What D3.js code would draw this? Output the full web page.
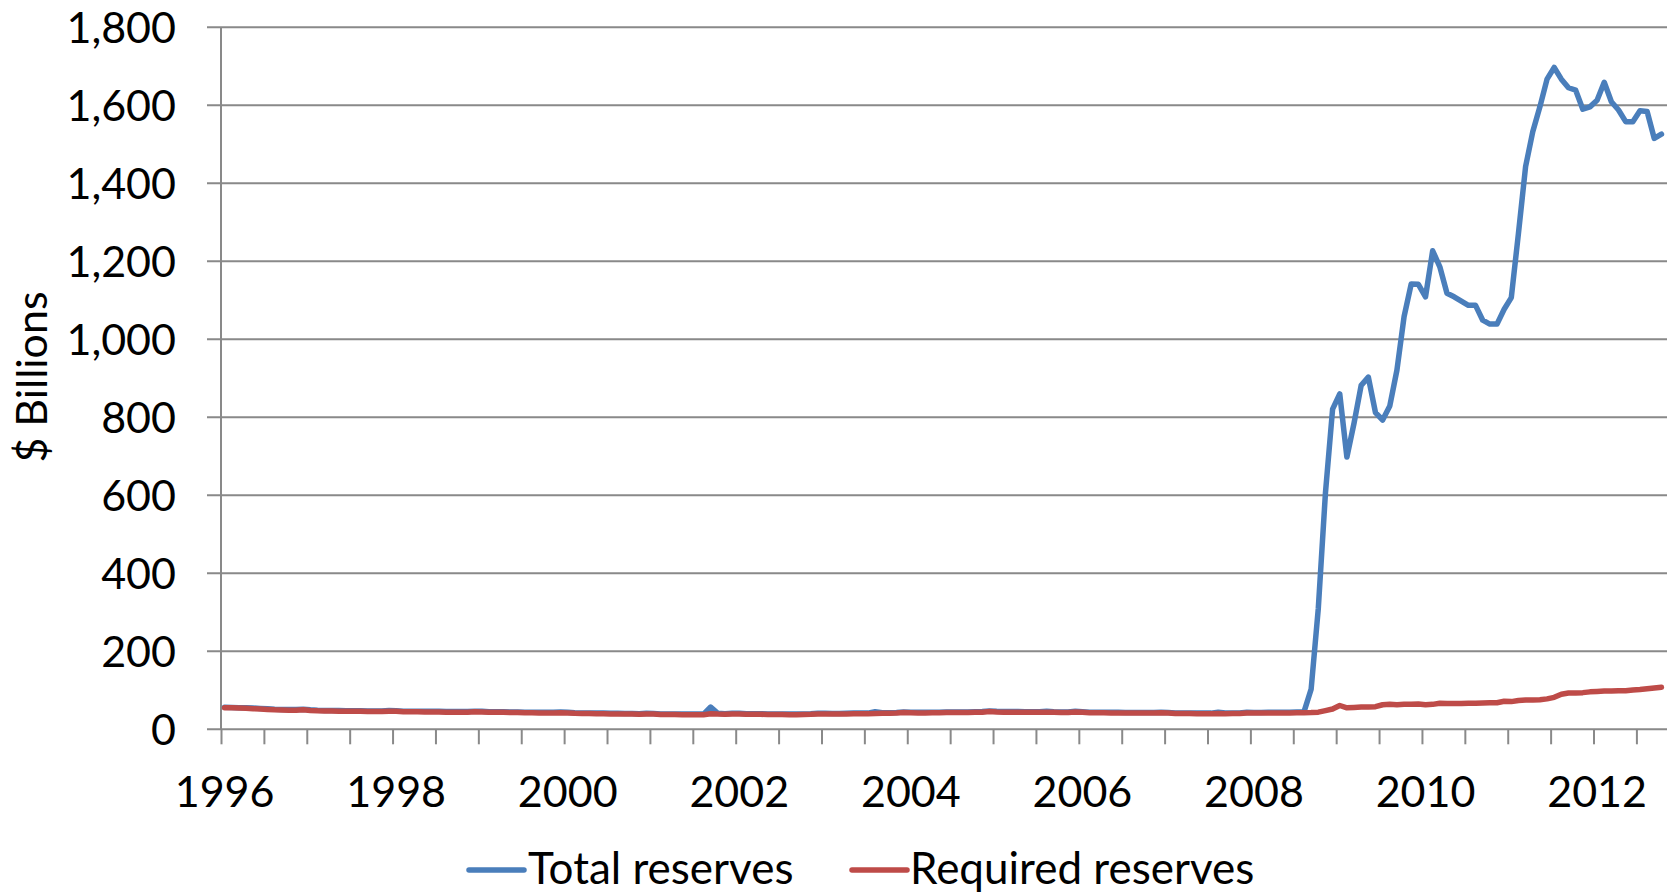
<!DOCTYPE html>
<html>
<head>
<meta charset="utf-8">
<script src="https://cdn.jsdelivr.net/npm/d3@7"></script>
<style>
  html, body { margin: 0; padding: 0; background: #fff; }
  svg { display: block; }
  text { font-family: Lato, "Open Sans", sans-serif; fill: #000; }
</style>
</head>
<body>
<svg id="chart" width="1667" height="894"></svg>
<script>
// ---------------- DATA (monthly, Jan 1996 – Oct 2012, $ billions) ----------------
const startMonth = new Date(1996, 0, 1);
const endMonth = new Date(2012, 10, 1); // exclusive
const months = d3.timeMonth.range(startMonth, endMonth);

const seriesNames = ["Total reserves", "Required reserves"];
const seriesColors = ["#4A7EBB", "#BE4B48"];

const totalReserves = [
  56.5, 56, 55.5, 55, 54.5, 53.5, 52.5, 51.5, 51, 50.5, 50.5, 51.5,      // 1996
  50, 49, 48.5, 48.5, 48, 47.5, 47.5, 47.5, 47, 47, 47, 48,              // 1997
  47.5, 46.5, 46.5, 46.5, 46, 46, 46, 45.5, 45.5, 45.5, 45.5, 46.5,      // 1998
  46, 45, 45, 45, 44.5, 44.5, 44, 44, 43.5, 43.5, 43.5, 44.5,            // 1999
  43.5, 42.5, 42, 42, 41.5, 41.5, 41, 41, 40.5, 40.5, 40, 41,            // 2000
  40.5, 39.5, 39.5, 39.5, 39, 39, 39, 39, 57, 41, 40, 41,                // 2001
  41, 40, 40, 40, 39.5, 39.5, 39.5, 39, 39, 39.5, 40, 41,                // 2002
  41, 40.5, 40.5, 41, 41.5, 41.5, 41.5, 45, 42.5, 42.5, 43, 44.5,        // 2003
  44, 43.5, 43.5, 44, 44, 44.5, 44.5, 44.5, 44.5, 45, 45.5, 47,          // 2004
  46, 45.5, 45.5, 45.5, 45, 45, 45, 46, 45, 44.5, 44.5, 46,              // 2005
  45, 44, 44, 44, 43.5, 43.5, 43, 43, 43, 43, 43, 44,                    // 2006
  43, 42, 42, 42, 41.5, 41.5, 41.5, 44, 42, 42, 42, 43.5,                // 2007
  43, 43, 43.5, 43.5, 43.5, 44, 44.5, 44.5, 103, 310, 606, 821,          // 2008
  860, 698, 785, 882, 903, 812, 793, 829, 921, 1058, 1142, 1141,         // 2009
  1109, 1227, 1186, 1118, 1109, 1098, 1087, 1087, 1049, 1039, 1039, 1077,// 2010
  1107, 1272, 1443, 1532, 1596, 1667, 1697, 1667, 1645, 1639, 1590, 1596,// 2011
  1613, 1659, 1609, 1588, 1558, 1558, 1586, 1584, 1515, 1526             // 2012
];

const requiredReserves = [
  55, 55, 54.5, 54, 53, 52, 51, 50, 49.5, 49, 49, 50,                    // 1996
  48.5, 47.5, 47, 47, 46.5, 46, 46, 46, 45.5, 45.5, 45.5, 46.5,          // 1997
  46, 45, 45, 45, 44.5, 44.5, 44.5, 44, 44, 44, 44, 45,                  // 1998
  44.5, 43.5, 43.5, 43.5, 43, 43, 42.5, 42.5, 42, 42, 42, 42.5,          // 1999
  42, 41, 40.5, 40.5, 40, 40, 39.5, 39.5, 39, 39, 38.5, 39.5,            // 2000
  39, 38, 38, 38, 37.5, 37.5, 37.5, 37.5, 40, 39, 38.5, 39.5,            // 2001
  39.5, 38.5, 38.5, 38.5, 38, 38, 38, 37.5, 37.5, 38, 38.5, 39.5,        // 2002
  39.5, 39, 39, 39.5, 40, 40, 40, 40.5, 41, 41, 41.5, 43,                // 2003
  42.5, 42, 42, 42.5, 42.5, 43, 43, 43, 43, 43.5, 44, 45.5,              // 2004
  44.5, 44, 44, 44, 43.5, 43.5, 43.5, 43.5, 43.5, 43, 43, 44.5,          // 2005
  43.5, 42.5, 42.5, 42.5, 42, 42, 41.5, 41.5, 41.5, 41.5, 41.5, 42.5,    // 2006
  41.5, 40.5, 40.5, 40.5, 40, 40, 40, 40.5, 40, 40.5, 40.5, 42,          // 2007
  41.5, 41.5, 41.5, 42, 42, 42, 42.5, 42.5, 43, 44, 48, 52,              // 2008
  61, 55, 56, 57, 57, 58, 63, 64, 63, 64, 64, 65,                        // 2009
  63, 64, 67, 66, 66, 66, 67, 67, 67.5, 68, 68, 72,                      // 2010
  71, 74, 75, 75, 76, 78, 82, 90, 93, 93, 94, 96,                        // 2011
  97, 98, 98, 99, 99, 101, 102, 104, 106, 108                            // 2012
];

const yTicks = [0, 200, 400, 600, 800, 1000, 1200, 1400, 1600, 1800];
const yearLabels = ["1996", "1998", "2000", "2002", "2004", "2006", "2008", "2010", "2012"];
const yAxisTitle = "$ Billions";

// ---------------- LAYOUT ----------------
const W = 1667, H = 894;
const plotLeft = 221, plotRight = 1665, plotTop = 27.3, plotBottom = 729.3;
const fontSize = 43;
const legendFontSize = 44;
const gridColor = "#898989";

const svg = d3.select("#chart");

const x = d3.scaleLinear().domain([0, months.length]).range([plotLeft, plotRight]);
const y = d3.scaleLinear().domain([0, 1800]).range([plotBottom, plotTop]);

// Gridlines
svg.append("g")
  .selectAll("line")
  .data(yTicks)
  .join("line")
  .attr("x1", plotLeft - 14)
  .attr("x2", W)
  .attr("y1", d => y(d))
  .attr("y2", d => y(d))
  .attr("stroke", gridColor)
  .attr("stroke-width", 2);

// Y axis line
svg.append("line")
  .attr("x1", plotLeft).attr("x2", plotLeft)
  .attr("y1", plotTop).attr("y2", plotBottom)
  .attr("stroke", gridColor).attr("stroke-width", 2);

// Y tick labels
const fmt = d3.format(",");
svg.append("g")
  .selectAll("text")
  .data(yTicks)
  .join("text")
  .attr("x", 176)
  .attr("y", d => y(d))
  .attr("dy", "0.36em")
  .attr("text-anchor", "end")
  .attr("font-size", fontSize)
  .text(d => fmt(d));

// X axis tick marks (every 6 months, at category boundaries)
const tickIdx = d3.range(0, months.length, 6);
const xAxis = d3.axisBottom(x)
  .tickValues(tickIdx)
  .tickSize(15)
  .tickFormat("");
const gx = svg.append("g")
  .attr("transform", `translate(0,${plotBottom})`)
  .call(xAxis);
gx.select(".domain").remove();
gx.selectAll(".tick line").attr("stroke", gridColor).attr("stroke-width", 2);

// X labels (January of even years, centred on the category)
const labelIdx = months.map((m, i) => i).filter(i => months[i].getMonth() === 0 && yearLabels.includes(String(months[i].getFullYear())));
svg.append("g")
  .selectAll("text")
  .data(labelIdx)
  .join("text")
  .attr("x", i => x(i + 0.5))
  .attr("y", 807)
  .attr("text-anchor", "middle")
  .attr("font-size", fontSize)
  .text(i => String(months[i].getFullYear()));

// Y axis title
svg.append("text")
  .attr("transform", "translate(47,377) rotate(-90)")
  .attr("text-anchor", "middle")
  .attr("font-size", fontSize)
  .text(yAxisTitle);

// Lines
const line = d3.line()
  .x((d, i) => x(i + 0.5))
  .y(d => y(d))
  .curve(d3.curveLinear);

[totalReserves, requiredReserves].forEach((series, k) => {
  svg.append("path")
    .datum(series)
    .attr("fill", "none")
    .attr("stroke", seriesColors[k])
    .attr("stroke-width", 5.5)
    .attr("stroke-linejoin", "round")
    .attr("stroke-linecap", "round")
    .attr("d", line);
});

// Legend
const legendItems = [
  { name: seriesNames[0], color: seriesColors[0], x0: 469, x1: 524, tx: 528 },
  { name: seriesNames[1], color: seriesColors[1], x0: 852, x1: 907, tx: 910 }
];
const lg = svg.append("g");
legendItems.forEach(it => {
  lg.append("line")
    .attr("x1", it.x0).attr("x2", it.x1)
    .attr("y1", 870).attr("y2", 870)
    .attr("stroke", it.color)
    .attr("stroke-width", 5.5)
    .attr("stroke-linecap", "round");
  lg.append("text")
    .attr("x", it.tx)
    .attr("y", 884)
    .attr("font-size", legendFontSize)
    .text(it.name);
});
</script>
</body>
</html>
